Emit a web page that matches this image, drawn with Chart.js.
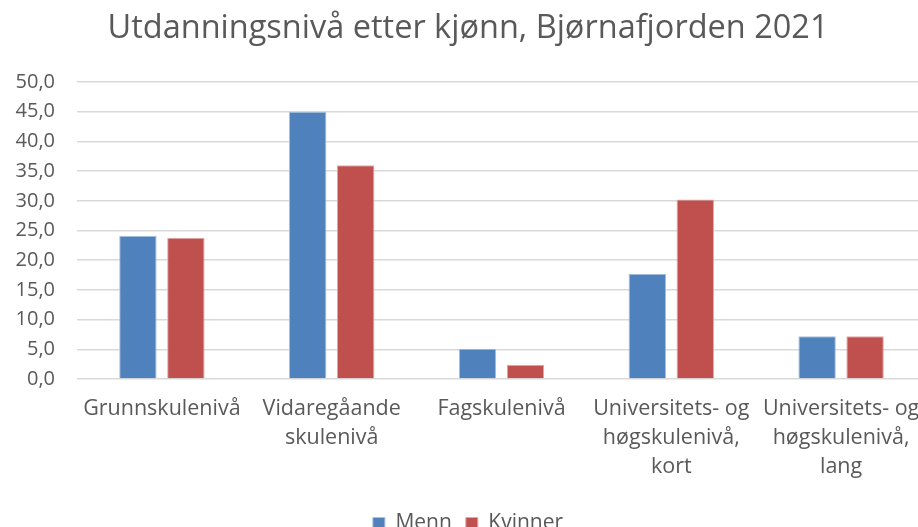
<!DOCTYPE html>
<html>
<head>
<meta charset="utf-8">
<script src="https://cdn.jsdelivr.net/npm/chart.js@4/dist/chart.umd.min.js"></script>
<style>
  html, body { margin: 0; padding: 0; background: #fff; overflow: hidden; }
</style>
</head>
<body>
<canvas id="myChart" width="950" height="544"></canvas>
<script>
// kategoriar (fleire linjer per etikett)
var categories = [
    ['Grunnskulenivå'],
    ['Vidaregåande', 'skulenivå'],
    ['Fagskulenivå'],
    ['Universitets- og', 'høgskulenivå,', 'kort'],
    ['Universitets- og', 'høgskulenivå,', 'lang']
];
var menn = [24.1, 45.0, 5.1, 17.7, 7.2];
var kvinner = [23.8, 36.0, 2.4, 30.2, 7.2];
var seriesNames = ['Menn', 'Kvinner'];
var titleText = 'Utdanningsnivå etter kjønn, Bjørnafjorden 2021';

var textColor = '#595959';
var fontFamily = '"Open Sans", Lato, sans-serif';

// originalbiletet er breiare enn vindauget, difor eit breiare lerret
var ctx = document.getElementById('myChart');
var myChart = new Chart(ctx, {
    type: 'bar',
    data: {
        labels: categories,
        datasets: [
            {
                label: seriesNames[0],
                data: menn,
                backgroundColor: '#4F81BD',
                borderColor: '#A7C0DE',
                borderWidth: 1
            },
            {
                label: seriesNames[1],
                data: kvinner,
                backgroundColor: '#C0504D',
                borderColor: '#E0A8A6',
                borderWidth: 1
            }
        ]
    },
    options: {
        responsive: false,
        animation: false,
        layout: { padding: { left: 10, right: 24, top: 0, bottom: 0 } },
        datasets: {
            bar: { categoryPercentage: 0.565, barPercentage: 0.78 }
        },
        scales: {
            x: {
                grid: { display: false, drawTicks: false },
                border: { display: false },
                ticks: {
                    color: textColor,
                    font: { family: fontFamily, size: 21.5, lineHeight: 1.35 },
                    maxRotation: 0,
                    autoSkip: false,
                    padding: 15
                },
                afterFit: function (scale) { scale.height = 120; }
            },
            y: {
                min: 0,
                max: 50,
                ticks: {
                    stepSize: 5,
                    color: textColor,
                    font: { family: fontFamily, size: 20 },
                    padding: 22,
                    callback: function (v) { return v.toFixed(1).replace('.', ','); }
                },
                grid: { color: '#D9D9D9', lineWidth: 1.5, drawTicks: false },
                border: { display: false },
                afterFit: function (scale) { scale.width = 67; }
            }
        },
        plugins: {
            title: {
                display: true,
                text: titleText,
                color: textColor,
                font: { family: fontFamily, size: 32.5, weight: 'normal' },
                padding: { top: 9, bottom: 34 }
            },
            legend: {
                position: 'bottom',
                labels: {
                    color: textColor,
                    font: { family: fontFamily, size: 21 },
                    boxWidth: 12,
                    boxHeight: 12,
                    padding: 14
                }
            },
            tooltip: { enabled: false }
        }
    }
});
</script>
</body>
</html>
